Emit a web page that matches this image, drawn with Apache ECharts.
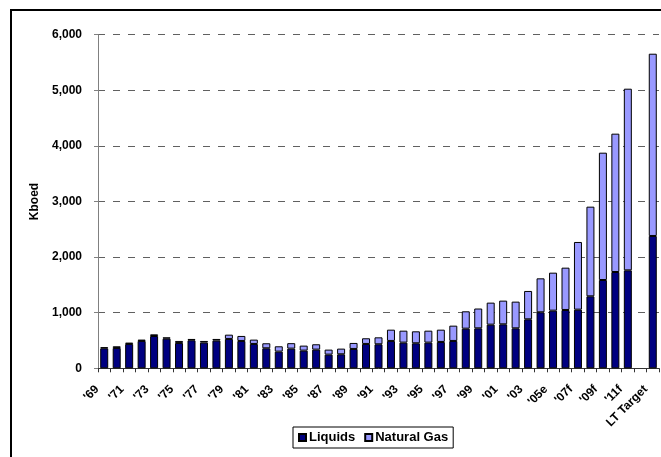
<!DOCTYPE html>
<html>
<head>
<meta charset="utf-8">
<script src="https://cdn.jsdelivr.net/npm/echarts@6/dist/echarts.min.js"></script>
<style>
html,body{margin:0;padding:0;background:#fff;}
#chart{width:661px;height:457px;}
</style>
</head>
<body>
<div id="chart"></div>
<script>
var categories = ["'69","'70","'71","'72","'73","'74","'75","'76","'77","'78","'79","'80","'81","'82","'83","'84","'85","'86","'87","'88","'89","'90","'91","'92","'93","'94","'95","'96","'97","'98","'99","'00","'01","'02","'03","'04","'05e","'06e","'07f","'08f","'09f","'10f","'11f","","LT Target"];
var liquids = [360,366,438,492,581,533,456,504,462,498,528,492,438,360,300,354,318,336,246,252,348,438,432,492,462,450,462,474,492,713,719,785,791,719,881,1007,1037,1049,1055,1295,1588,1732,1762,null,2380];
var naturalGas = [20,30,24,24,30,24,36,24,30,30,77,90,78,90,96,98,90,96,90,102,108,102,125,203,215,215,215,221,275,312,356,396,426,480,510,611,683,761,1217,1612,2290,2488,3267,null,3278];
var yTicks = [0,1000,2000,3000,4000,5000,6000];

var FONT = '"Liberation Sans", Arial, sans-serif';
var chart = echarts.init(document.getElementById('chart'), null, {renderer:'canvas'});
chart.setOption({
  animation:false,
  backgroundColor:'#fff',
  textStyle:{fontFamily:FONT},
  grid:{left:98, right:2, top:34.7, bottom:88.7, containLabel:false},
  graphic:[{type:'rect', shape:{x:11, y:10, width:720, height:520}, style:{fill:'none', stroke:'#000', lineWidth:2}, silent:true}],
  legend:{
    left:293, top:427, orient:'horizontal',
    borderColor:'#000', borderWidth:1, padding:[4,5,4,5],
    itemWidth:7, itemHeight:7, itemGap:9,
    textStyle:{fontFamily:FONT, fontWeight:'bold', fontSize:13, color:'#000', padding:[0,0,0,-2]},
    data:[{name:'Liquids', icon:'rect'},{name:'Natural Gas', icon:'rect'}]
  },
  xAxis:{
    type:'category', data:categories, boundaryGap:true,
    axisLine:{lineStyle:{color:'#333', width:1}},
    axisTick:{show:true, length:4, lineStyle:{color:'#333'}, alignWithLabel:false, interval:0},
    axisLabel:{interval:1, rotate:45, fontFamily:FONT, fontWeight:'bold', fontSize:12, color:'#000', margin:12, padding:[0,10,0,0]}
  },
  yAxis:{
    type:'value', min:0, max:6000, interval:1000,
    name:'Kboed', nameLocation:'middle', nameGap:57, nameRotate:90,
    nameTextStyle:{fontFamily:FONT, fontWeight:'bold', fontSize:12, color:'#000'},
    axisLine:{show:true, lineStyle:{color:'#808080', width:1}},
    axisTick:{show:true, length:4, lineStyle:{color:'#808080'}},
    axisLabel:{fontFamily:FONT, fontWeight:'bold', fontSize:12, color:'#000', margin:16,
      formatter:function(v){return v.toLocaleString('en-US');}},
    splitLine:{show:true, lineStyle:{color:'#606060', type:[7,8], width:1}}
  },
  series:[
    {name:'Liquids', type:'bar', stack:'t', data:liquids, barWidth:8,
     itemStyle:{color:'#000080', borderColor:'#000', borderWidth:1}},
    {name:'Natural Gas', type:'bar', stack:'t', data:naturalGas, barWidth:8,
     itemStyle:{color:'#9999FF', borderColor:'#000', borderWidth:1}}
  ]
});
</script>
</body>
</html>
